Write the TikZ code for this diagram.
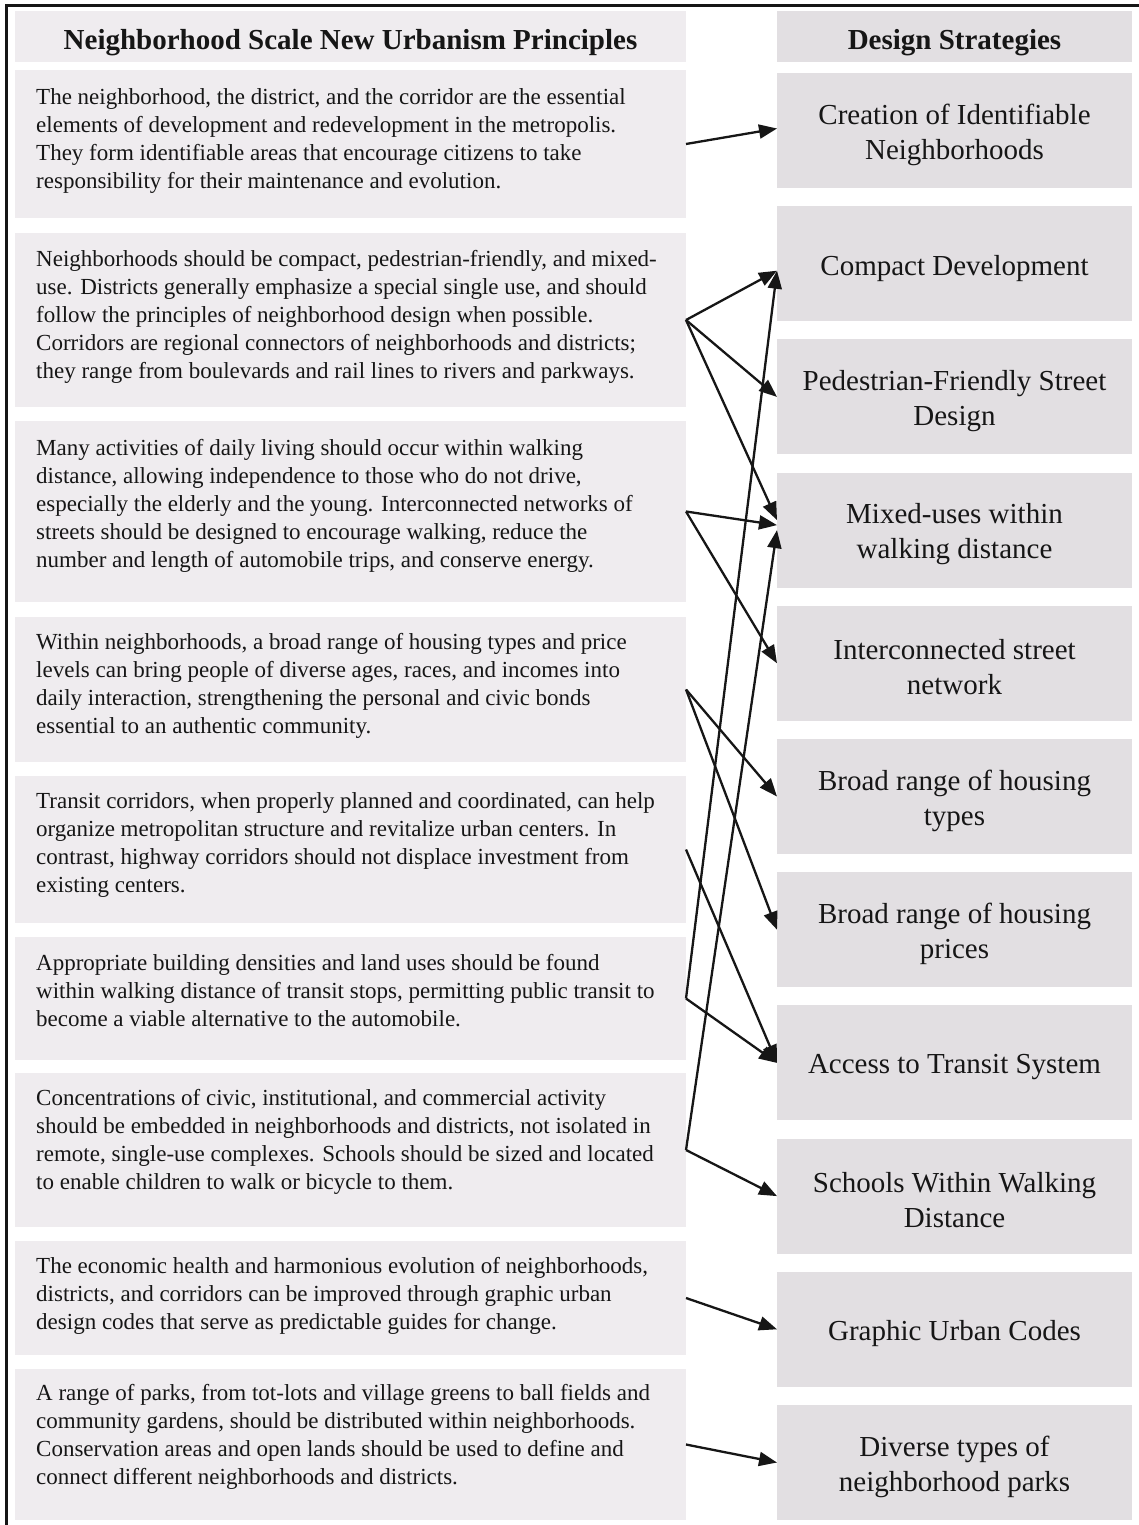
\documentclass[tikz,border=0pt]{standalone}
\usepackage{fontspec}
\setmainfont{Liberation Serif}
\usetikzlibrary{arrows.meta,calc}
\definecolor{lfill}{RGB}{239,236,239}
\definecolor{rfill}{RGB}{226,223,226}
\definecolor{ink}{RGB}{22,22,22}
\begin{document}
\begin{tikzpicture}[x=1pt,y=-1pt,
  lbox/.style={fill=lfill, draw=none, anchor=north west, minimum width=671pt, inner sep=0pt, outer sep=0pt},
  rbox/.style={fill=rfill, draw=none, anchor=north west, minimum width=355pt, minimum height=115pt, inner sep=0pt, outer sep=0pt},
  ltext/.style={anchor=north west, inner sep=0pt, align=left, font=\fontsize{23}{28}\selectfont, text=ink},
  rtext/.style={inner sep=0pt, align=center, font=\fontsize{29}{35}\selectfont, text=ink},
  htext/.style={inner sep=0pt, align=center, font=\fontsize{29}{35}\selectfont\bfseries, text=ink},
  conn/.style={line width=2.3pt, -{Triangle[length=18pt,width=14pt]}, draw=ink},
]
\useasboundingbox (0,0) rectangle (1139,1525);
\fill[white] (0,0) rectangle (1139,1525);
\draw[line width=3pt, ink] (6.5,1525) -- (6.5,5.5) -- (1139,5.5);

% left column
\node[lbox, minimum height=51pt] (lh) at (15,11) {};
\node[htext] (lht) at ($(lh.center)+(0,6)$) {Neighborhood Scale New Urbanism Principles};
\node[lbox, minimum height=148pt] (p1) at (15,70) {};
\node[lbox, minimum height=174pt] (p2) at (15,233) {};
\node[lbox, minimum height=181pt] (p3) at (15,421) {};
\node[lbox, minimum height=145pt] (p4) at (15,617) {};
\node[lbox, minimum height=147pt] (p5) at (15,776) {};
\node[lbox, minimum height=123pt] (p6) at (15,937) {};
\node[lbox, minimum height=154pt] (p7) at (15,1073) {};
\node[lbox, minimum height=114pt] (p8) at (15,1241) {};
\node[lbox, minimum height=151pt] (p9) at (15,1369) {};

\node[ltext] (t1) at (36,88) {The neighborhood, the district, and the corridor are the essential\\elements of development and redevelopment in the metropolis.\\They form identifiable areas that encourage citizens to take\\responsibility for their maintenance and evolution.};
\node[ltext] (t2) at (36,250) {Neighborhoods should be compact, pedestrian-friendly, and mixed-\\use. Districts generally emphasize a special single use, and should\\follow the principles of neighborhood design when possible.\\Corridors are regional connectors of neighborhoods and districts;\\they range from boulevards and rail lines to rivers and parkways.};
\node[ltext] (t3) at (36,439) {Many activities of daily living should occur within walking\\distance, allowing independence to those who do not drive,\\especially the elderly and the young. Interconnected networks of\\streets should be designed to encourage walking, reduce the\\number and length of automobile trips, and conserve energy.};
\node[ltext] (t4) at (36,633) {Within neighborhoods, a broad range of housing types and price\\levels can bring people of diverse ages, races, and incomes into\\daily interaction, strengthening the personal and civic bonds\\essential to an authentic community.};
\node[ltext] (t5) at (36,792) {Transit corridors, when properly planned and coordinated, can help\\organize metropolitan structure and revitalize urban centers. In\\contrast, highway corridors should not displace investment from\\existing centers.};
\node[ltext] (t6) at (36,954) {Appropriate building densities and land uses should be found\\within walking distance of transit stops, permitting public transit to\\become a viable alternative to the automobile.};
\node[ltext] (t7) at (36,1089) {Concentrations of civic, institutional, and commercial activity\\should be embedded in neighborhoods and districts, not isolated in\\remote, single-use complexes. Schools should be sized and located\\to enable children to walk or bicycle to them.};
\node[ltext] (t8) at (36,1257) {The economic health and harmonious evolution of neighborhoods,\\districts, and corridors can be improved through graphic urban\\design codes that serve as predictable guides for change.};
\node[ltext] (t9) at (36,1384) {A range of parks, from tot-lots and village greens to ball fields and\\community gardens, should be distributed within neighborhoods.\\Conservation areas and open lands should be used to define and\\connect different neighborhoods and districts.};

% right column
\node[rbox, minimum height=51pt] (rh) at (777,11) {};
\node[htext] (rht) at ($(rh.center)+(0,6)$) {Design Strategies};
\node[rbox] (s1) at (777,73) {};
\node[rbox] (s2) at (777,206.2) {};
\node[rbox] (s3) at (777,339.4) {};
\node[rbox] (s4) at (777,472.6) {};
\node[rbox] (s5) at (777,605.8) {};
\node[rbox] (s6) at (777,739) {};
\node[rbox] (s7) at (777,872.2) {};
\node[rbox] (s8) at (777,1005.4) {};
\node[rbox] (s9) at (777,1138.6) {};
\node[rbox] (s10) at (777,1271.8) {};
\node[rbox] (s11) at (777,1405) {};

\node[rtext] (u1) at ($(s1.center)+(0,4)$) {Creation of Identifiable\\Neighborhoods};
\node[rtext] (u2) at ($(s2.center)+(0,5)$) {Compact Development};
\node[rtext] (u3) at ($(s3.center)+(0,4)$) {Pedestrian-Friendly Street\\Design};
\node[rtext] (u4) at ($(s4.center)+(0,4)$) {Mixed-uses within\\walking distance};
\node[rtext] (u5) at ($(s5.center)+(0,4)$) {Interconnected street\\network};
\node[rtext] (u6) at ($(s6.center)+(0,4)$) {Broad range of housing\\types};
\node[rtext] (u7) at ($(s7.center)+(0,4)$) {Broad range of housing\\prices};
\node[rtext] (u8) at ($(s8.center)+(0,4)$) {Access to Transit System};
\node[rtext] (u9) at ($(s9.center)+(0,4)$) {Schools Within Walking\\Distance};
\node[rtext] (u10) at ($(s10.center)+(0,4)$) {Graphic Urban Codes};
\node[rtext] (u11) at ($(s11.center)+(0,4)$) {Diverse types of\\neighborhood parks};

% connectors
\draw[conn] (p1.east) -- ([yshift=2pt]s1.west);
\draw[conn] (p2.east) -- ([yshift=-7pt]s2.west);
\draw[conn] (p2.east) -- (s3.west);
\draw[conn] (p2.east) -- ([yshift=10pt]s4.west);
\draw[conn] (p3.east) -- ([yshift=5pt]s4.west);
\draw[conn] (p3.east) -- (s5.west);
\draw[conn] (p4.east) -- (s6.west);
\draw[conn] (p4.east) -- (s7.west);
\draw[conn] (p5.east) -- (s8.west);
\draw[conn] (p6.east) -- (s8.west);
\draw[conn] (p6.east) -- ([yshift=-7pt]s2.west);
\draw[conn] (p7.east) -- (s4.west);
\draw[conn] (p7.east) -- (s9.west);
\draw[conn] (p8.east) -- (s10.west);
\draw[conn] (p9.east) -- (s11.west);
\end{tikzpicture}
\end{document}
